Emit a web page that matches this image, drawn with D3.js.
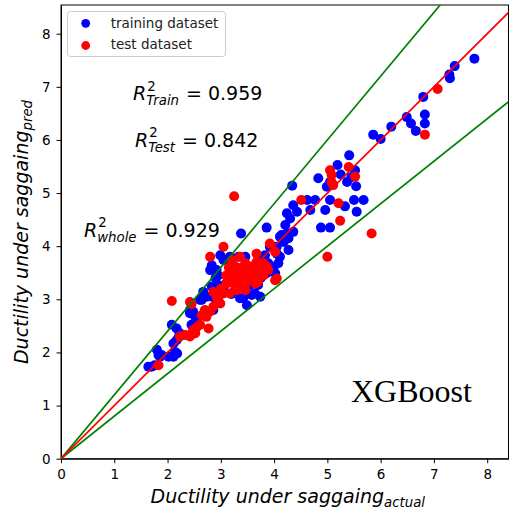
<!DOCTYPE html>
<html>
<head>
<meta charset="utf-8">
<script src="https://cdn.jsdelivr.net/npm/d3@7"></script>
<style>
  body { margin: 0; background: #fff; }
  svg { display: block; }
  .axis text { font-family: "DejaVu Sans", sans-serif; font-size: 13.5px; fill: #000; }
  .axis path, .axis line { stroke: #000; stroke-width: 1; }
</style>
</head>
<body>
<svg id="chart"></svg>
<script>
// training points [actual, predicted]
const trainPoints = [
  [7.76,7.53],[7.39,7.39],[7.29,7.23],[7.30,7.16],[6.80,6.81],[6.83,6.48],[6.83,6.31],[6.49,6.43],[6.57,6.31],[6.66,6.17],
  [6.20,6.25],[5.86,6.10],[6.00,6.02],[5.19,5.53],[5.41,5.71],[5.52,5.43],[5.37,5.21],[5.54,5.13],[4.83,5.28],[4.99,5.12],
  [5.05,5.21],[5.25,5.35],[5.45,5.30],[4.34,5.14],[4.77,4.87],[5.05,4.87],[4.96,4.68],[5.33,4.75],[5.50,4.87],[5.68,4.87],
  [5.55,4.65],[4.88,4.35],[5.05,4.35],[3.86,4.35],[4.24,4.62],[4.30,4.52],[4.21,4.40],[4.36,4.27],[4.11,4.18],[4.27,4.15],
  [4.36,4.77],[4.43,4.65],[4.62,4.87],[4.68,4.68],[3.38,4.24],[4.05,3.99],[4.11,3.80],[4.08,3.68],[3.99,3.61],[4.18,4.08],
  [4.27,3.93],[3.89,3.68],[3.92,3.99],[4.05,3.86],[4.02,3.49],[3.83,3.83],[3.92,3.55],[2.99,3.83],[2.83,3.64],[2.92,3.55],
  [3.11,3.74],[3.33,3.80],[3.17,3.80],[2.80,3.55],[2.95,3.45],[2.83,3.24],[2.92,3.17],[2.67,3.14],[2.73,3.05],[2.95,3.27],
  [2.83,3.05],[2.64,2.99],[3.36,3.02],[3.49,3.11],[3.58,3.08],[3.64,3.11],[3.42,3.02],[3.74,3.05],[3.49,2.89],[3.70,3.27],
  [3.55,3.27],[3.46,3.32],[2.48,2.77],[2.52,2.67],[2.61,2.99],[2.42,2.80],[2.45,2.52],[2.55,2.61],[2.42,2.74],[2.23,2.36],
  [2.17,2.23],[2.11,2.17],[2.08,2.52],[2.17,2.45],[2.21,2.29],[1.80,2.05],[1.83,1.95],[1.86,1.92],[2.02,1.92],[2.18,1.98],
  [2.11,1.92],[2.14,2.01],[1.64,1.73],[1.70,1.73],[1.76,1.76],[1.89,1.95],[3.05,3.20],[3.20,3.10],[3.50,3.50],[3.60,3.60],
  [3.10,3.30],[3.25,3.15],[2.90,3.40],[3.30,3.40],[3.75,3.40],[3.40,3.60],[3.46,3.80],[3.05,3.74],[3.80,3.80],[3.89,3.61],
  [3.86,3.49],[4.14,4.21],[4.24,4.24],[2.86,2.80],[2.92,3.00]
];

// test points [actual, predicted]
const testPoints = [
  [7.07,6.96],[6.83,6.10],[5.05,5.43],[5.08,5.34],[5.08,5.21],[5.11,5.15],[5.40,5.49],[5.52,5.31],[4.51,4.87],[5.21,4.81],
  [5.24,4.48],[5.83,4.24],[5.00,3.80],[3.25,4.94],[3.92,4.05],[4.02,3.89],[3.67,3.86],[4.05,3.39],[2.80,3.80],[3.05,3.99],
  [3.21,3.74],[3.24,3.64],[3.36,3.80],[3.46,3.68],[3.80,3.68],[3.89,3.55],[4.02,3.36],[3.17,3.49],[3.30,3.49],[3.49,3.49],
  [3.61,3.55],[3.74,3.49],[3.11,3.30],[3.24,3.30],[3.39,3.30],[3.55,3.36],[3.70,3.33],[3.05,3.11],[3.17,3.11],[3.30,3.17],
  [3.46,3.17],[2.92,3.05],[2.99,2.92],[2.86,2.86],[2.80,2.77],[2.70,2.80],[2.64,2.70],[2.73,2.67],[2.86,3.14],[2.42,2.95],
  [2.45,2.91],[2.08,2.97],[2.77,2.45],[2.61,2.52],[2.55,2.48],[2.48,2.42],[2.42,2.30],[2.33,2.33],[2.23,2.30],[2.52,2.36],
  [1.83,1.76],[3.40,3.58],[3.55,3.62],[3.20,3.40],[3.60,3.45],[3.35,3.40],[3.45,3.25],[3.70,3.60],[3.86,3.62],[3.67,3.70],
  [3.15,3.60],[3.30,3.60],[3.50,3.40],[3.65,3.30],[3.35,3.25],[3.00,3.20],[3.10,3.45],[3.80,3.45],[3.25,3.55],[2.95,2.98]
];

const xTicks = [0, 1, 2, 3, 4, 5, 6, 7, 8];
const yTicks = [0, 1, 2, 3, 4, 5, 6, 7, 8];
const refSlopes = [1.2, 0.8];   // green +-20% lines
const scores = [
  { sub: "Train", value: "0.959" },
  { sub: "Test", value: "0.842" },
  { sub: "whole", value: "0.929" }
];

const W = 509, H = 512;
const margin = { top: 5, right: 0.5, bottom: 53.3, left: 61 };
const width = W - margin.left - margin.right;
const height = H - margin.top - margin.bottom;

const x = d3.scaleLinear().domain([0, 8.4]).range([0, width]);
const y = d3.scaleLinear().domain([0, 8.54]).range([height, 0]);

const svg = d3.select("#chart").attr("width", W).attr("height", H);
const g = svg.append("g").attr("transform", `translate(${margin.left},${margin.top})`);

g.append("clipPath").attr("id", "clip")
  .append("rect").attr("width", width).attr("height", height);

// axes
g.append("g")
  .attr("class", "axis")
  .attr("transform", `translate(0,${height})`)
  .call(d3.axisBottom(x).tickValues(xTicks).tickSize(4.5).tickSizeOuter(0).tickPadding(6).tickFormat(d3.format("d")));

g.append("g")
  .attr("class", "axis")
  .call(d3.axisLeft(y).tickValues(yTicks).tickSize(4.5).tickSizeOuter(0).tickPadding(6).tickFormat(d3.format("d")));

// frame
g.append("rect")
  .attr("width", width).attr("height", height)
  .attr("fill", "none").attr("stroke", "#000").attr("stroke-width", 1);

const plot = g.append("g").attr("clip-path", "url(#clip)");

const r = 5;
plot.append("g").selectAll("circle")
  .data(trainPoints).enter().append("circle")
  .attr("cx", d => x(d[0])).attr("cy", d => y(d[1]))
  .attr("r", r).attr("fill", "blue");

plot.append("g").selectAll("circle")
  .data(testPoints).enter().append("circle")
  .attr("cx", d => x(d[0])).attr("cy", d => y(d[1]))
  .attr("r", r).attr("fill", "red");

// reference lines
const line = d3.line().x(d => x(d[0])).y(d => y(d[1]));
refSlopes.forEach(k => {
  plot.append("path")
    .attr("d", line([[0, 0], [9, 9 * k]]))
    .attr("stroke", "green").attr("stroke-width", 1.7).attr("fill", "none");
});
plot.append("path")
  .attr("d", line([[0, 0], [9, 9]]))
  .attr("stroke", "red").attr("stroke-width", 1.7).attr("fill", "none");

// legend
const lg = svg.append("g");
lg.append("rect")
  .attr("x", 67.5).attr("y", 11.5).attr("width", 158).attr("height", 45).attr("rx", 3)
  .attr("fill", "#fff").attr("fill-opacity", 0.8).attr("stroke", "#ccc");
[["training dataset", "blue", 23.3, 27.8], ["test dataset", "red", 45.5, 48.5]].forEach(e => {
  lg.append("circle").attr("cx", 85.7).attr("cy", e[2]).attr("r", 4.4).attr("fill", e[1]);
  lg.append("text").attr("x", 110.7).attr("y", e[3])
    .attr("font-family", "DejaVu Sans").attr("font-size", 13.5).attr("fill", "#222")
    .text(e[0]);
});

// R^2 annotations
const ann = [[133, 100], [135, 146.7], [84, 236.5]];
scores.forEach((s, i) => {
  const [ax, ay] = ann[i];
  const a = svg.append("g").attr("font-family", "DejaVu Sans").attr("fill", "#000");
  const R = a.append("text").attr("x", ax).attr("y", ay)
    .attr("font-size", 19).attr("font-style", "italic").text("R");
  const rw = R.node().getComputedTextLength();
  a.append("text").attr("x", ax + rw + 1).attr("y", ay - 9.5)
    .attr("font-size", 13.3).text("2");
  const sub = a.append("text").attr("x", ax + rw).attr("y", ay + 5)
    .attr("font-size", 13.3).attr("font-style", "italic").text(s.sub);
  const sw = sub.node().getComputedTextLength();
  a.append("text").attr("x", ax + rw + sw + 7).attr("y", ay)
    .attr("font-size", 19).text("= " + s.value);
});

// model name
svg.append("text")
  .attr("x", 351).attr("y", 401.5)
  .attr("font-family", "Liberation Serif").attr("font-size", 32)
  .text("XGBoost");

// axis titles
const xl = svg.append("text")
  .attr("x", margin.left + width / 2 + 3).attr("y", 503.3)
  .attr("text-anchor", "middle")
  .attr("font-family", "DejaVu Sans").attr("font-style", "italic").attr("font-size", 19);
xl.append("tspan").text("Ductility under saggaing");
xl.append("tspan").attr("dy", 4).attr("font-size", 13.3).text("actual");

const yl = svg.append("text")
  .attr("transform", "translate(28,232) rotate(-90)")
  .attr("text-anchor", "middle")
  .attr("font-family", "DejaVu Sans").attr("font-style", "italic").attr("font-size", 19);
yl.append("tspan").text("Ductility under saggaing");
yl.append("tspan").attr("dy", 4).attr("font-size", 13.3).text("pred");
</script>
</body>
</html>
